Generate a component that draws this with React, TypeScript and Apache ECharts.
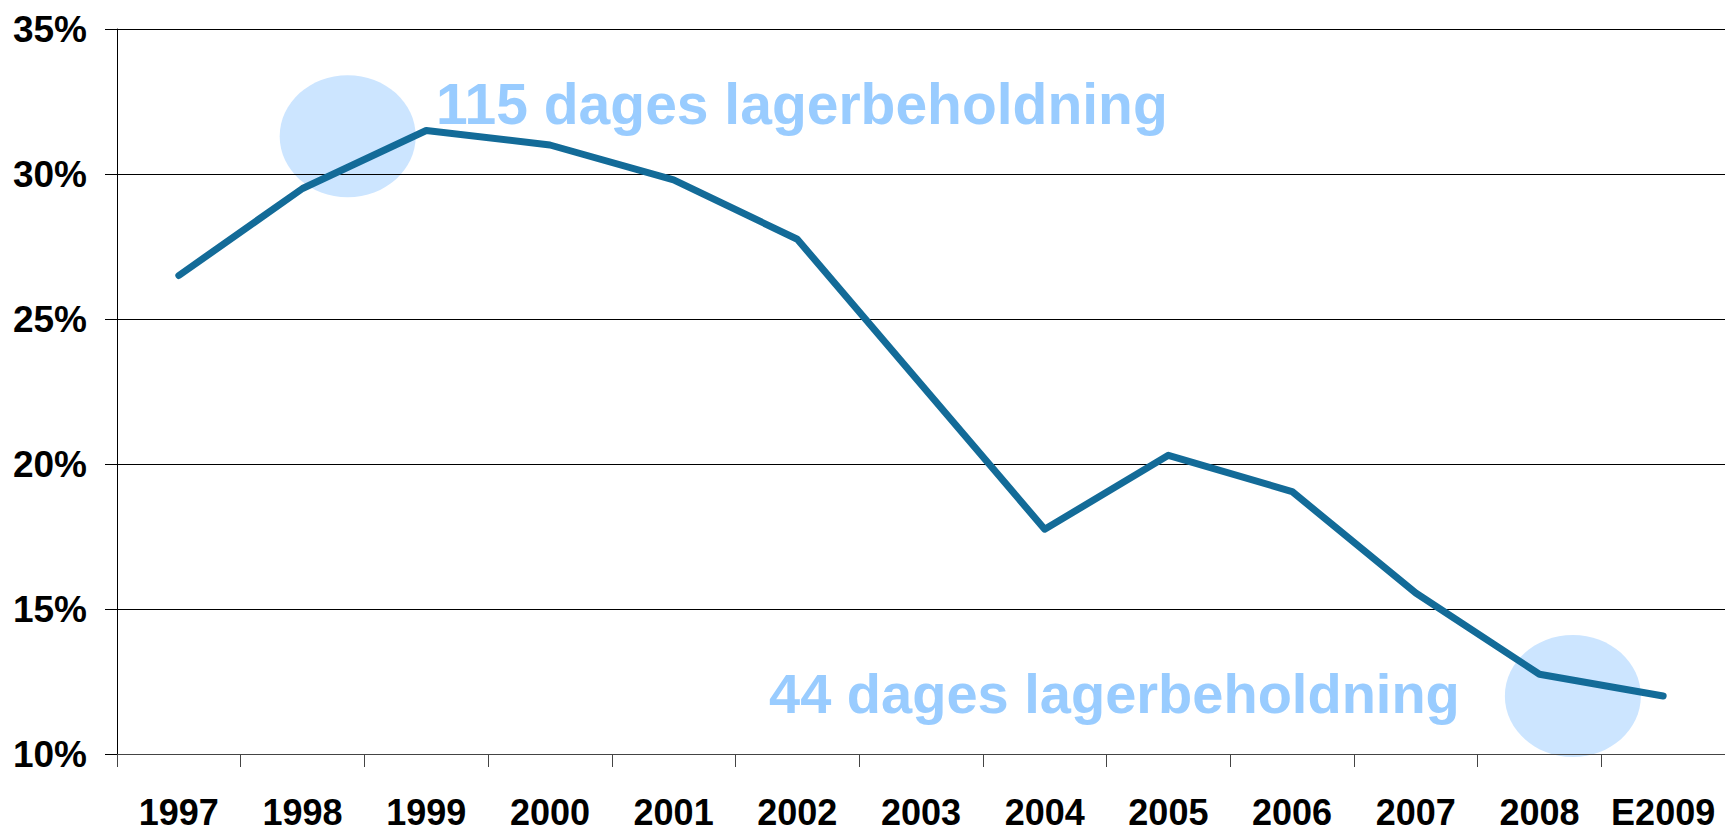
import React, { useEffect, useRef } from "react";
import * as echarts from "echarts";

const categories = ["1997", "1998", "1999", "2000", "2001", "2002", "2003", "2004", "2005", "2006", "2007", "2008", "E2009"];
const values = [26.5, 29.5, 31.5, 31.0, 29.8, 27.75, 22.75, 17.75, 20.3, 19.05, 15.55, 12.75, 12.0];
const yTicks = { min: 10, max: 35, interval: 5 };

// annotation ellipses: [category index (fractional), value]
const bubbleCenters = [
  [1.365, 31.3],
  [11.27, 12.0],
];
const annotationTexts = ["115 dages lagerbeholdning", "44 dages lagerbeholdning"];

export default function App() {
  const ref = useRef<HTMLDivElement>(null);
  useEffect(() => {
    document.body.style.margin = "0";
    const chart = echarts.init(ref.current!, null, { renderer: "svg" });
    const font = "'Liberation Sans', Arial, Helvetica, sans-serif";
    chart.setOption({
      animation: false,
      backgroundColor: "#ffffff",
      grid: { left: 117, right: 0, top: 29, bottom: 77 },
      xAxis: {
        type: "category",
        data: categories,
        boundaryGap: true,
        axisLine: { show: true, lineStyle: { color: "#444", width: 1 } },
        axisTick: { show: true, length: 13, lineStyle: { color: "#444" } },
        axisLabel: { color: "#000", fontSize: 36, fontWeight: "bold", fontFamily: font, margin: 40, interval: 0 },
      },
      yAxis: {
        type: "value",
        min: yTicks.min,
        max: yTicks.max,
        interval: yTicks.interval,
        axisLine: { show: true, lineStyle: { color: "#000", width: 1 } },
        axisTick: { show: true, length: 12, lineStyle: { color: "#000" } },
        splitLine: { show: true, lineStyle: { color: "#000", width: 1 } },
        axisLabel: { color: "#000", fontSize: 37, fontWeight: "bold", fontFamily: font, margin: 30, formatter: "{value}%" },
      },
      series: [
        {
          type: "line",
          data: values,
          symbol: "none",
          z: 5,
          lineStyle: { color: "#136B98", width: 7, cap: "round", join: "round" },
        },
      ],
    });

    const place = () => {
      const ells = bubbleCenters.map(([ci, v]) => {
        const p0 = chart.convertToPixel({ gridIndex: 0 }, [0, v]) as number[];
        const p1 = chart.convertToPixel({ gridIndex: 0 }, [1, v]) as number[];
        const step = p1[0] - p0[0];
        return {
          type: "ellipse",
          z: -10,
          silent: true,
          shape: { cx: p0[0] + ci * step, cy: p0[1], rx: 68, ry: 61 },
          style: { fill: "#CCE5FF" },
        };
      });
      chart.setOption({
        graphic: [
          ...ells,
          {
            type: "text",
            z: 10,
            x: 436,
            y: 104,
            style: { text: annotationTexts[0], fill: "#99CCFF", font: `bold 57px ${font}`, textAlign: "left", textVerticalAlign: "middle" },
          },
          {
            type: "text",
            z: 10,
            x: 769,
            y: 693,
            style: { text: annotationTexts[1], fill: "#99CCFF", font: `bold 56px ${font}`, textAlign: "left", textVerticalAlign: "middle" },
          },
        ],
      });
    };
    place();
    return () => chart.dispose();
  }, []);
  return <div ref={ref} style={{ width: 1725, height: 831 }} />;
}
